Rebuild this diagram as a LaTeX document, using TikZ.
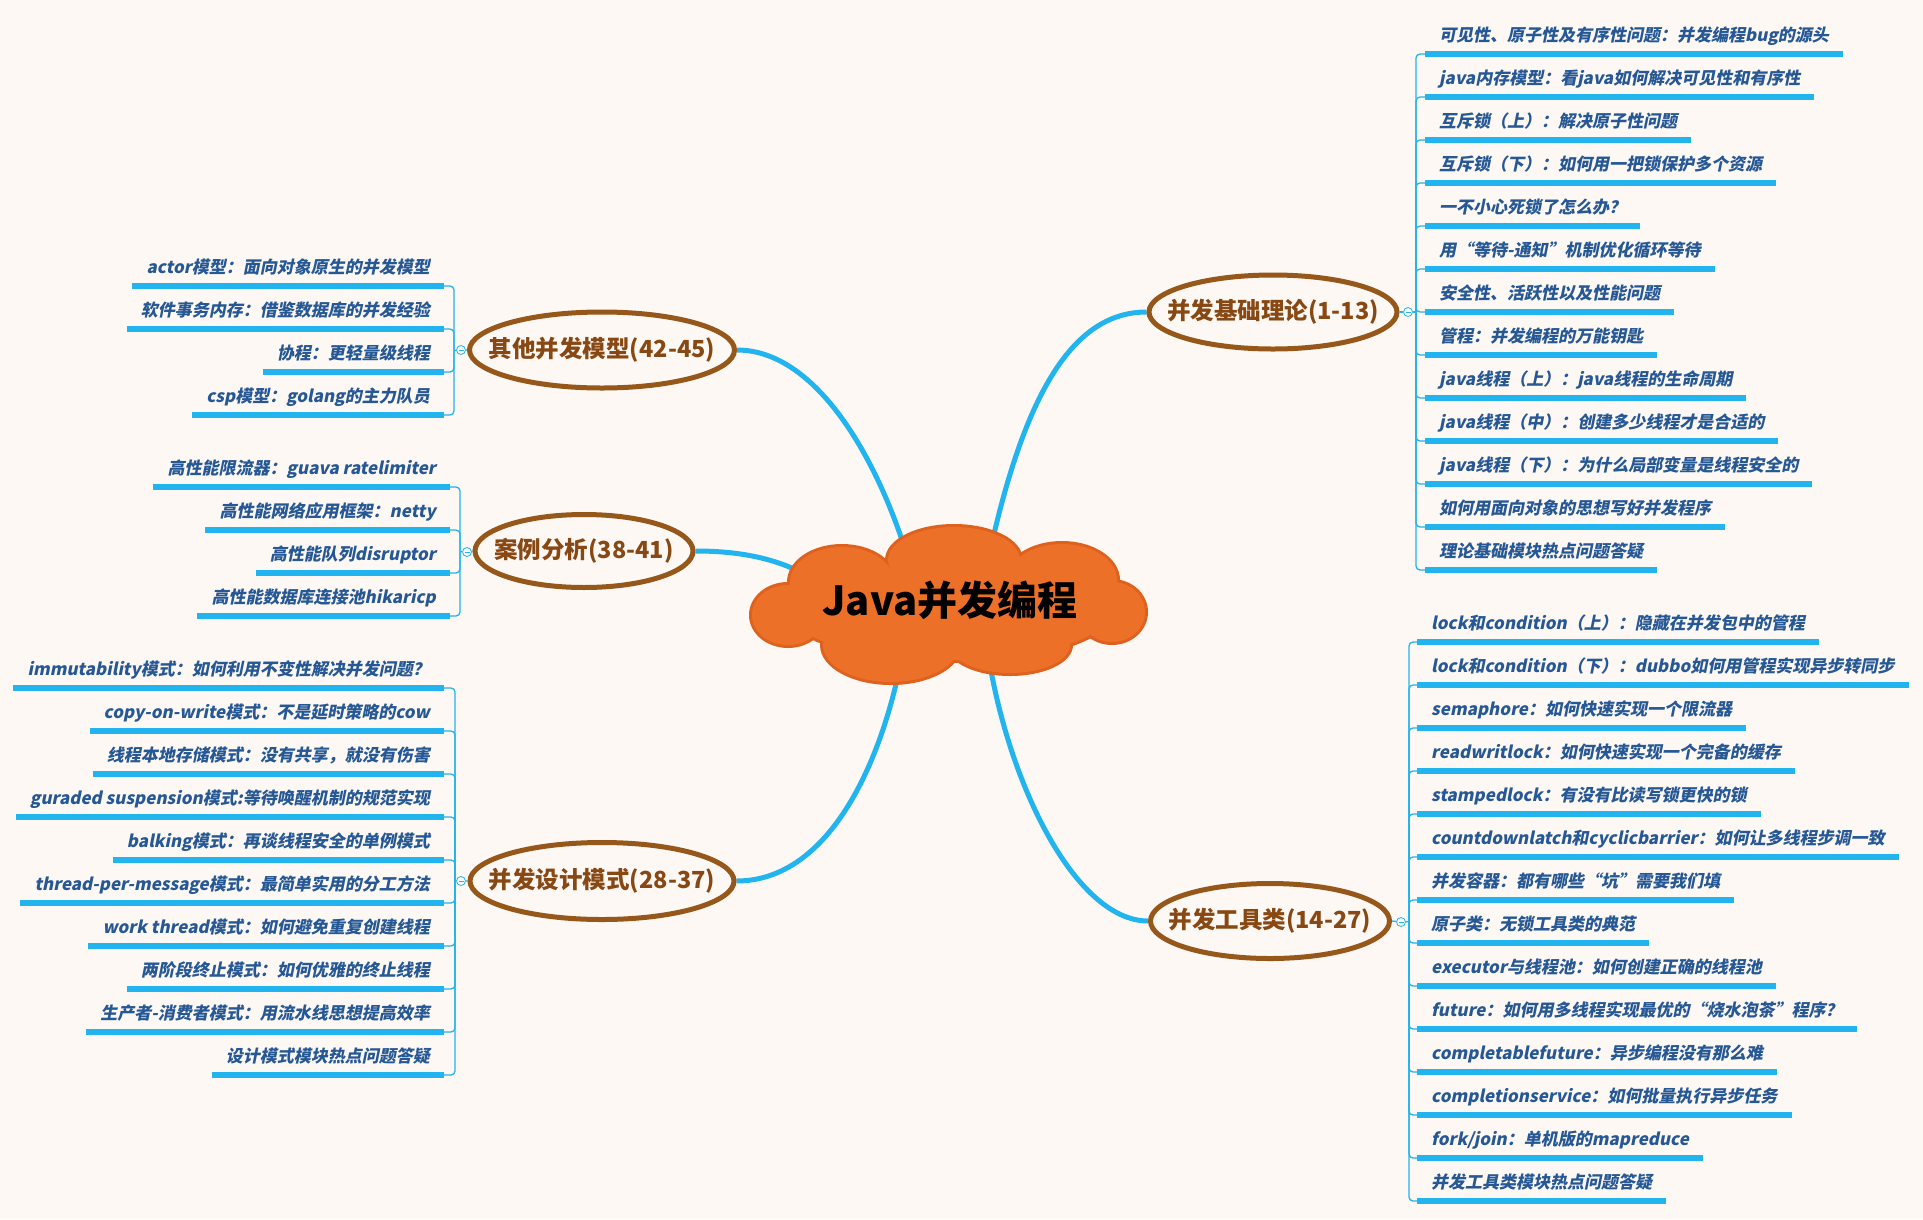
\documentclass[tikz,border=0pt]{standalone}
\usepackage{fontspec}
\setmainfont{Noto Sans CJK SC}
\newfontfamily\leaffont{Noto Sans CJK SC}[FakeSlant=0.2]
\usepackage{tikz}
\usetikzlibrary{shapes.geometric}
\pgfdeclarelayer{background}
\pgfsetlayers{background,main}
\definecolor{paper}{RGB}{253,248,243}
\definecolor{lineblue}{RGB}{34,180,238}
\definecolor{leafblue}{RGB}{38,88,150}
\definecolor{brownline}{RGB}{150,88,26}
\definecolor{browntext}{RGB}{135,72,20}
\definecolor{cloudfill}{RGB}{236,112,40}
\definecolor{cloudedge}{RGB}{222,98,30}
\tikzset{
  leaf/.style={font={\leaffont\bfseries\fontsize{17}{20}\selectfont}, text=leafblue,
    inner xsep=14pt, inner ysep=12pt, text depth=0pt},
  leafr/.style={leaf, anchor=south west},
  leafl/.style={leaf, anchor=south east},
  uline/.style={lineblue, line width=5.5pt},
  bracket/.style={lineblue, line width=1.3pt, rounded corners=4pt},
  branch/.style={lineblue, line width=5pt},
  topic/.style={ellipse, draw=brownline, line width=5pt, fill=paper, inner sep=0pt},
  topictext/.style={font={\bfseries\fontsize{23.5}{28}\selectfont}, text=browntext},
  hub/.style={circle, draw=lineblue, line width=0.8pt, fill=paper, minimum size=9pt, inner sep=0pt,
    path picture={\draw[lineblue, line width=0.8pt] ([xshift=-2.5pt]path picture bounding box.center)
      -- ([xshift=2.5pt]path picture bounding box.center);}},
}

\begin{document}
\begin{tikzpicture}[x=1pt,y=-1pt]
      \useasboundingbox (0,0) rectangle (1923,1219);
      % centre cloud: puffs drawn as overlapping ellipses
      \coordinate (root) at (948,605);
      \foreach \cx/\cy/\rx/\ry in {954/560/66/33, 1062/580/55/36, 1112/612/33/30, 842/582/52/35, 788/615/36/30,
                                   891/645/68/37, 1010/645/60/28, 950/612/160/48}
        \draw[cloudedge, line width=6pt] (\cx,\cy) ellipse [x radius=\rx, y radius=\ry];
      \foreach \cx/\cy/\rx/\ry in {954/560/66/33, 1062/580/55/36, 1112/612/33/30, 842/582/52/35, 788/615/36/30,
                                   891/645/68/37, 1010/645/60/28, 950/612/160/48}
        \fill[cloudfill] (\cx,\cy) ellipse [x radius=\rx, y radius=\ry];
      \node[font={\bfseries\fontsize{40}{48}\selectfont}] (rootText) at (950,600) {Java并发编程};
      % topics
      \node[topic, minimum width=248pt, minimum height=74pt] (bBase) at (1273,312) {};
      \node[topictext] (lBase) at (bBase) {并发基础理论(1-13)};
      \node[topic, minimum width=239pt, minimum height=75pt] (bTool) at (1270,921) {};
      \node[topictext] (lTool) at (bTool) {并发工具类(14-27)};
      \node[topic, minimum width=265pt, minimum height=76pt] (bOther) at (602,350) {};
      \node[topictext] (lOther) at (bOther) {其他并发模型(42-45)};
      \node[topic, minimum width=218pt, minimum height=73pt] (bCase) at (584,551) {};
      \node[topictext] (lCase) at (bCase) {案例分析(38-41)};
      \node[topic, minimum width=264pt, minimum height=77pt] (bDesign) at (602,881) {};
      \node[topictext] (lDesign) at (bDesign) {并发设计模式(28-37)};
      % collapse marks
      \node[hub] (hBase) at (1408,312) {};
      \node[hub] (hTool) at (1401,922) {};
      \node[hub] (hOther) at (461,350) {};
      \node[hub] (hCase) at (467,552) {};
      \node[hub] (hDesign) at (461,881) {};
      \coordinate (kBase) at (1416,312);
      \coordinate (kTool) at (1409,921.5);
      \coordinate (kOther) at (454,350.5);
      \coordinate (kCase) at (460,551.5);
      \coordinate (kDesign) at (455,881.5);
      % 并发基础理论
      \node[leafr] (base1) at (1425,54) {可见性、原子性及有序性问题：并发编程bug的源头};
      \node[leafr] (base2) at (1425,97) {java内存模型：看java如何解决可见性和有序性};
      \node[leafr] (base3) at (1425,140) {互斥锁（上）：解决原子性问题};
      \node[leafr] (base4) at (1425,183) {互斥锁（下）：如何用一把锁保护多个资源};
      \node[leafr] (base5) at (1425,226) {一不小心死锁了怎么办？};
      \node[leafr] (base6) at (1425,269) {用“等待-通知”机制优化循环等待};
      \node[leafr] (base7) at (1425,312) {安全性、活跃性以及性能问题};
      \node[leafr] (base8) at (1425,355) {管程：并发编程的万能钥匙};
      \node[leafr] (base9) at (1425,398) {java线程（上）：java线程的生命周期};
      \node[leafr] (base10) at (1425,441) {java线程（中）：创建多少线程才是合适的};
      \node[leafr] (base11) at (1425,484) {java线程（下）：为什么局部变量是线程安全的};
      \node[leafr] (base12) at (1425,527) {如何用面向对象的思想写好并发程序};
      \node[leafr] (base13) at (1425,570) {理论基础模块热点问题答疑};
      % 并发工具类
      \node[leafr] (tool1) at (1417,642) {lock和condition（上）：隐藏在并发包中的管程};
      \node[leafr] (tool2) at (1417,685) {lock和condition（下）：dubbo如何用管程实现异步转同步};
      \node[leafr] (tool3) at (1417,728) {semaphore：如何快速实现一个限流器};
      \node[leafr] (tool4) at (1417,771) {readwritlock：如何快速实现一个完备的缓存};
      \node[leafr] (tool5) at (1417,814) {stampedlock：有没有比读写锁更快的锁};
      \node[leafr] (tool6) at (1417,857) {countdownlatch和cyclicbarrier：如何让多线程步调一致};
      \node[leafr] (tool7) at (1417,900) {并发容器：都有哪些“坑”需要我们填};
      \node[leafr] (tool8) at (1417,943) {原子类：无锁工具类的典范};
      \node[leafr] (tool9) at (1417,986) {executor与线程池：如何创建正确的线程池};
      \node[leafr] (tool10) at (1417,1029) {future：如何用多线程实现最优的“烧水泡茶”程序？};
      \node[leafr] (tool11) at (1417,1072) {completablefuture：异步编程没有那么难};
      \node[leafr] (tool12) at (1417,1115) {completionservice：如何批量执行异步任务};
      \node[leafr] (tool13) at (1417,1158) {fork/join：单机版的mapreduce};
      \node[leafr] (tool14) at (1417,1201) {并发工具类模块热点问题答疑};
      % 其他并发模型
      \node[leafl] (other1) at (444,286) {actor模型：面向对象原生的并发模型};
      \node[leafl] (other2) at (444,329) {软件事务内存：借鉴数据库的并发经验};
      \node[leafl] (other3) at (444,372) {协程：更轻量级线程};
      \node[leafl] (other4) at (444,415) {csp模型：golang的主力队员};
      % 案例分析
      \node[leafl] (case1) at (450,487) {高性能限流器：guava ratelimiter};
      \node[leafl] (case2) at (450,530) {高性能网络应用框架：netty};
      \node[leafl] (case3) at (450,573) {高性能队列disruptor};
      \node[leafl] (case4) at (450,616) {高性能数据库连接池hikaricp};
      % 并发设计模式
      \node[leafl] (design1) at (444,688) {immutability模式：如何利用不变性解决并发问题？};
      \node[leafl] (design2) at (444,731) {copy-on-write模式：不是延时策略的cow};
      \node[leafl] (design3) at (444,774) {线程本地存储模式：没有共享，就没有伤害};
      \node[leafl] (design4) at (444,817) {guraded suspension模式:等待唤醒机制的规范实现};
      \node[leafl] (design5) at (444,860) {balking模式：再谈线程安全的单例模式};
      \node[leafl] (design6) at (444,903) {thread-per-message模式：最简单实用的分工方法};
      \node[leafl] (design7) at (444,946) {work thread模式：如何避免重复创建线程};
      \node[leafl] (design8) at (444,989) {两阶段终止模式：如何优雅的终止线程};
      \node[leafl] (design9) at (444,1032) {生产者-消费者模式：用流水线思想提高效率};
      \node[leafl] (design10) at (444,1075) {设计模式模块热点问题答疑};
      \begin{pgfonlayer}{background}
        \fill[paper] (0,0) rectangle (1923,1219);
        % main branches
        \draw[branch] ([xshift=36pt,yshift=25pt]root) .. controls (1020,400) and (1070,312) .. (bBase.west);
        \draw[branch] ([xshift=-34pt,yshift=25pt]root) .. controls (885,470) and (820,350) .. (bOther.east);
        \draw[branch] (bCase.east) .. controls (745,551) and (790,560) .. ([xshift=-118pt,yshift=15pt]root);
        \draw[branch] ([xshift=-43pt,yshift=-35pt]root) .. controls (885,760) and (830,881) .. (bDesign.east);
        \draw[branch] ([xshift=38pt,yshift=-35pt]root) .. controls (1005,780) and (1075,921) .. (bTool.west);
        % brackets
        \draw[bracket] (bBase.east) -- (hBase) -- (kBase);
        \draw[bracket] (bTool.east) -- (hTool) -- (kTool);
        \draw[bracket] (bOther.west) -- (hOther) -- (kOther);
        \draw[bracket] (bCase.west) -- (hCase) -- (kCase);
        \draw[bracket] (bDesign.west) -- (hDesign) -- (kDesign);
        \foreach \n in {1,...,13} \draw[bracket] (kBase) |- (base\n.south west);
        \foreach \n in {1,...,14} \draw[bracket] (kTool) |- (tool\n.south west);
        \foreach \n in {1,...,4} \draw[bracket] (kOther) |- (other\n.south east);
        \foreach \n in {1,...,4} \draw[bracket] (kCase) |- (case\n.south east);
        \foreach \n in {1,...,10} \draw[bracket] (kDesign) |- (design\n.south east);
        % underlines
        \foreach \n in {1,...,13} \draw[uline] (base\n.south west) -- (base\n.south east);
        \foreach \n in {1,...,14} \draw[uline] (tool\n.south west) -- (tool\n.south east);
        \foreach \n in {1,...,4} \draw[uline] (other\n.south west) -- (other\n.south east);
        \foreach \n in {1,...,4} \draw[uline] (case\n.south west) -- (case\n.south east);
        \foreach \n in {1,...,10} \draw[uline] (design\n.south west) -- (design\n.south east);
      \end{pgfonlayer}
\end{tikzpicture}
\end{document}
